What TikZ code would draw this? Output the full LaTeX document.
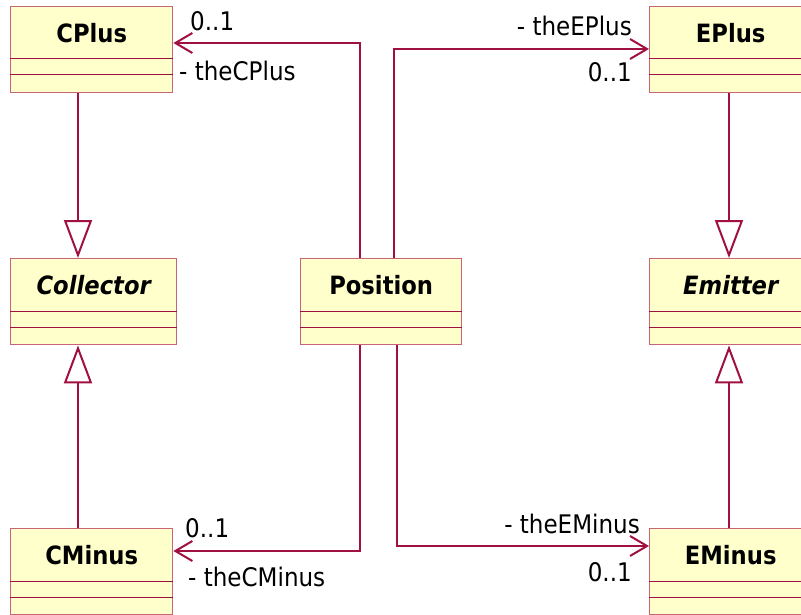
\documentclass[tikz,border=0pt]{standalone}
\usepackage{fontspec}
\setmainfont[FakeStretch=0.9]{DejaVu Sans}
\usetikzlibrary{arrows.meta,calc}

\definecolor{boxfill}{RGB}{255,255,204}
\definecolor{boxedge}{RGB}{200,100,120}
\definecolor{umlline}{RGB}{160,16,64}

\tikzset{
  classbox/.style={draw=boxedge, fill=boxfill, line width=1.4pt, rectangle,
    minimum height=86pt, inner sep=0pt, anchor=north west},
  classname/.style={font=\fontsize{25.2}{28}\selectfont\bfseries, inner sep=0pt},
  abstractname/.style={classname, font=\fontsize{25.2}{28}\selectfont\bfseries\itshape},
  compsep/.style={draw=umlline, line width=1pt},
  gen/.style={draw=umlline, line width=2pt,
    -{Triangle[open, length=38pt, width=28pt, fill=white]}},
  assoc/.style={draw=umlline, line width=2pt,
    -{Straight Barb[length=17pt, width=20pt, line width=2pt]}},
  rolelabel/.style={font=\fontsize{25.6}{29}\selectfont, inner sep=0pt},
}

% class box with name area and two empty compartments
\newcommand{\umlclass}[6]{%
  \node[classbox, minimum width=#4pt] (#1) at (#2,#3) {};
  \node[#6] (#1-name) at ($(#1.north)+(0,27)$) {#5};
  \draw[compsep] ($(#1.north west)+(0,53)$) -- ($(#1.north east)+(0,53)$);
  \draw[compsep] ($(#1.north west)+(0,69)$) -- ($(#1.north east)+(0,69)$);
}

\begin{document}
\begin{tikzpicture}[x=1pt, y=-1pt]
\useasboundingbox (0,0) rectangle (801,615);
\clip (0,0) rectangle (801,615);

% classes
\umlclass{cplus}{10}{6}{162}{CPlus}{classname}
\umlclass{collector}{10}{258}{166}{Collector}{abstractname}
\umlclass{cminus}{10}{528}{162}{CMinus}{classname}
\umlclass{position}{300}{258}{161}{Position}{classname}
\umlclass{eplus}{649}{6}{162}{EPlus}{classname}
\umlclass{emitter}{649}{258}{162}{Emitter}{abstractname}
\umlclass{eminus}{649}{528}{162}{EMinus}{classname}

% generalizations
\draw[gen] ([xshift=68pt]cplus.south west) -- ([xshift=68pt]collector.north west);
\draw[gen] ([xshift=68pt]cminus.north west) -- ([xshift=68pt]collector.south west);
\draw[gen] ([xshift=80pt]eplus.south west) -- ([xshift=80pt]emitter.north west);
\draw[gen] ([xshift=80pt]eminus.north west) -- ([xshift=80pt]emitter.south west);

% associations from Position
\draw[assoc] ([xshift=60pt]position.north west) |- ([yshift=-37pt]cplus.north east);
\draw[assoc] ([xshift=94pt]position.north west) |- ([yshift=-43pt]eplus.north west);
\draw[assoc] ([xshift=60pt]position.south west) |- ([yshift=-23pt]cminus.north east);
\draw[assoc] ([xshift=97pt]position.south west) |- ([yshift=-18pt]eminus.north west);

% role names and multiplicities
\node[rolelabel, anchor=base west] (m-cplus) at (190,31) {0..1};
\node[rolelabel, anchor=base west] (r-cplus) at (179,81) {- theCPlus};
\node[rolelabel, anchor=base east] (r-eplus) at (632,36) {- theEPlus};
\node[rolelabel, anchor=base east] (m-eplus) at (632,82) {0..1};
\node[rolelabel, anchor=base west] (m-cminus) at (185,537) {0..1};
\node[rolelabel, anchor=base west] (r-cminus) at (188,586) {- theCMinus};
\node[rolelabel, anchor=base east] (r-eminus) at (640,533) {- theEMinus};
\node[rolelabel, anchor=base east] (m-eminus) at (632,581) {0..1};
\end{tikzpicture}
\end{document}
